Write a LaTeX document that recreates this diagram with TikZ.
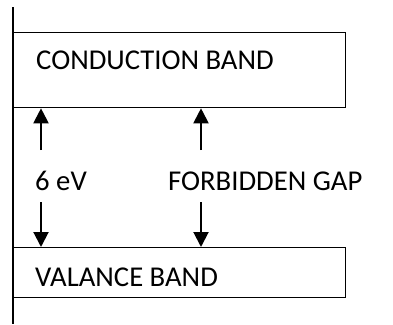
\documentclass[tikz,border=0pt]{standalone}
\usepackage{fontspec}
\setmainfont{Carlito}
\usetikzlibrary{arrows.meta}
\begin{document}
\begin{tikzpicture}[x=1pt,y=-1pt,
  band/.style={draw,line width=1.3pt,anchor=north west,inner sep=0pt},
  lbl/.style={anchor=base west,inner sep=0pt,font=\fontsize{28.7}{30}\selectfont},
  arr/.style={line width=2pt,-{Triangle[width=15pt,length=15pt]}}]
\useasboundingbox (0,0) rectangle (393,324);
\coordinate (axtop) at (13,7);
\coordinate (axbot) at (13,324);
\draw[line width=1.3pt] (axtop) -- (axbot);
\node[band,minimum width=332pt,minimum height=75pt] (cb) at (13,32) {};
\node[band,minimum width=332pt,minimum height=50pt] (vb) at (13,247) {};
\node[lbl] (cbt) at (36,69.5) {CONDUCTION BAND};
\node[lbl] (vbt) at (35,286.5) {VALANCE BAND};
\node[lbl] (ev) at (35,190) {6 eV};
\node[lbl] (fg) at (168,190) {FORBIDDEN GAP};
\coordinate (a1) at (41,150);
\coordinate (a2) at (41,202);
\coordinate (b1) at (201,150);
\coordinate (b2) at (201,202);
\draw[arr] (a1) -- (a1 |- cb.south);
\draw[arr] (a2) -- (a2 |- vb.north);
\draw[arr] (b1) -- (b1 |- cb.south);
\draw[arr] (b2) -- (b2 |- vb.north);
\end{tikzpicture}
\end{document}
